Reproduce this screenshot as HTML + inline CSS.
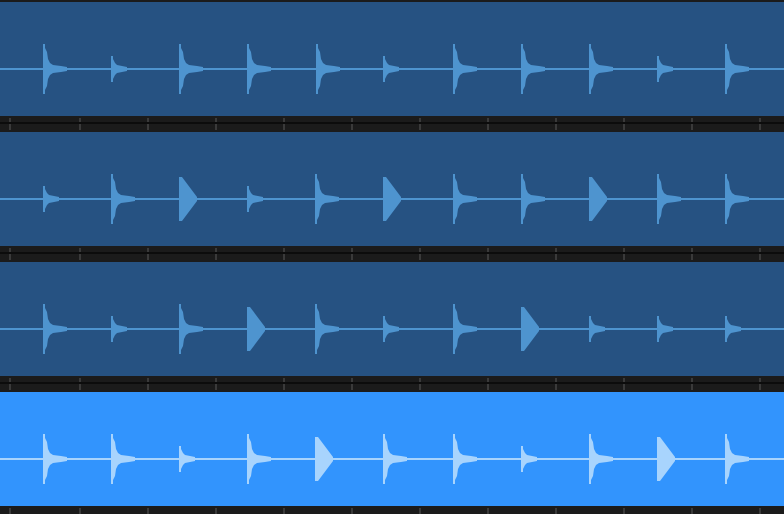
<!DOCTYPE html>
<html><head><style>
html,body{margin:0;padding:0;background:#1b1b1b;width:784px;height:514px;overflow:hidden}
</style></head><body>
<svg width="784" height="514" viewBox="0 0 784 514" xmlns="http://www.w3.org/2000/svg">
<defs>
<polygon id="s" points="0,-25 2,-25 2,-21 4,-17 5,-10 7,-6 10,-4 18,-3 24,-2 24,2 18,3 10,4 7,6 5,10 4,17 2,21 2,25 0,25"/>
<polygon id="m" points="0,-13 2,-13 2,-10 4,-6 6,-4 16,-2 16,2 6,4 4,6 2,10 2,13 0,13"/>
<polygon id="t" points="0,-22 3,-22 18,-2 18,2 3,22 0,22"/>
<g id="ticks" fill="#3a3a3a">
<rect x="9" y="0" width="2" height="12"/><rect x="79" y="0" width="2" height="12"/><rect x="147" y="0" width="2" height="12"/><rect x="215" y="0" width="2" height="12"/><rect x="283" y="0" width="2" height="12"/><rect x="351" y="0" width="2" height="12"/><rect x="419" y="0" width="2" height="12"/><rect x="487" y="0" width="2" height="12"/><rect x="555" y="0" width="2" height="12"/><rect x="623" y="0" width="2" height="12"/><rect x="691" y="0" width="2" height="12"/><rect x="759" y="0" width="2" height="12"/>
</g>
</defs>
<rect x="0" y="0" width="784" height="514" fill="#1b1b1b"/>
<g transform="translate(0,118)"><use href="#ticks"/></g><rect x="0" y="122" width="784" height="2" fill="#0c0c0c"/>
<g transform="translate(0,248)"><use href="#ticks"/></g><rect x="0" y="252" width="784" height="2" fill="#0c0c0c"/>
<g transform="translate(0,378)"><use href="#ticks"/></g><rect x="0" y="382" width="784" height="2" fill="#0c0c0c"/>
<g transform="translate(0,508)"><use href="#ticks"/></g>

<rect x="0" y="2" width="784" height="114" fill="#265282"/>
<g fill="#4e94cf" transform="translate(0,69)">
<rect x="0" y="-1" width="784" height="2"/>
<use href="#s" x="43"/><use href="#m" x="111"/><use href="#s" x="179"/><use href="#s" x="247"/><use href="#s" x="316"/><use href="#m" x="383"/><use href="#s" x="453"/><use href="#s" x="521"/><use href="#s" x="589"/><use href="#m" x="657"/><use href="#s" x="725"/>
</g>
<rect x="0" y="132" width="784" height="114" fill="#265282"/>
<g fill="#4e94cf" transform="translate(0,199)">
<rect x="0" y="-1" width="784" height="2"/>
<use href="#m" x="43"/><use href="#s" x="111"/><use href="#t" x="179"/><use href="#m" x="247"/><use href="#s" x="315"/><use href="#t" x="383"/><use href="#s" x="453"/><use href="#s" x="521"/><use href="#t" x="589"/><use href="#s" x="657"/><use href="#s" x="725"/>
</g>
<rect x="0" y="262" width="784" height="114" fill="#265282"/>
<g fill="#4e94cf" transform="translate(0,329)">
<rect x="0" y="-1" width="784" height="2"/>
<use href="#s" x="43"/><use href="#m" x="111"/><use href="#s" x="179"/><use href="#t" x="247"/><use href="#s" x="315"/><use href="#m" x="383"/><use href="#s" x="453"/><use href="#t" x="521"/><use href="#m" x="589"/><use href="#m" x="657"/><use href="#m" x="725"/>
</g>
<rect x="0" y="392" width="784" height="114" fill="#3294fd"/>
<g fill="#a8d4fd" transform="translate(0,459)">
<rect x="0" y="-1" width="784" height="2"/>
<use href="#s" x="43"/><use href="#s" x="111"/><use href="#m" x="179"/><use href="#s" x="247"/><use href="#t" x="315"/><use href="#s" x="383"/><use href="#s" x="453"/><use href="#m" x="521"/><use href="#s" x="589"/><use href="#t" x="657"/><use href="#s" x="725"/>
</g>
</svg>
</body></html>
